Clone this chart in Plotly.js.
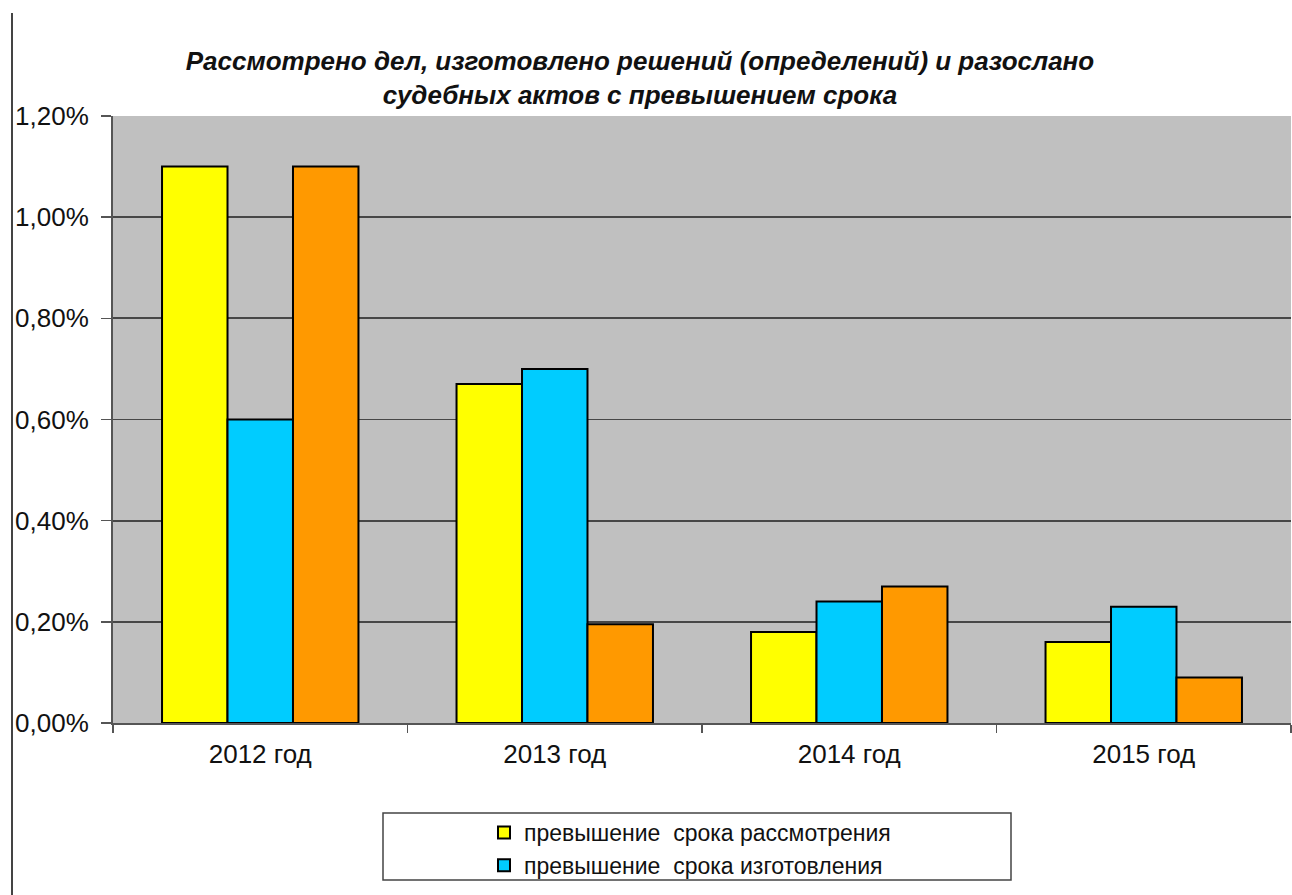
<!DOCTYPE html>
<html>
<head>
<meta charset="utf-8">
<script src="https://cdn.plot.ly/plotly-3.0.1.min.js"></script>
<style>html,body{margin:0;padding:0;background:#fff;}#chart{width:1292px;height:895px;}</style>
</head>
<body>
<div id="chart"></div>
<script>
const categories = ['2012 год', '2013 год', '2014 год', '2015 год'];
const reviewOverdue = [1.10, 0.67, 0.18, 0.16];      // превышение срока рассмотрения
const productionOverdue = [0.60, 0.70, 0.24, 0.23];  // превышение срока изготовления
const dispatchOverdue = [1.10, 0.195, 0.27, 0.09];   // превышение срока рассылки
const seriesNames = ['превышение\u00a0 срока рассмотрения', 'превышение\u00a0 срока изготовления', 'превышение\u00a0 срока рассылки'];
const yTicks = [0, 0.2, 0.4, 0.6, 0.8, 1.0, 1.2];
const yTickText = ['0,00%', '0,20%', '0,40%', '0,60%', '0,80%', '1,00%', '1,20%'];
const titleText = 'Рассмотрено дел, изготовлено решений (определений) и разослано<br>судебных актов с превышением срока';

const FONT = 'Liberation Sans, Arial, sans-serif';
const W = 1292, H = 895, ML = 113, MR = 1, MT = 116, MB = 172;
const PW = W - ML - MR, PH = H - MT - MB;
const px = x => (x - ML) / PW;
const py = y => (H - MB - y) / PH;

const barLine = {color: '#000', width: 2};
const traces = [
  {type: 'bar', x: categories, y: reviewOverdue, name: seriesNames[0], marker: {color: '#ffff00', line: barLine}},
  {type: 'bar', x: categories, y: productionOverdue, name: seriesNames[1], marker: {color: '#00ccff', line: barLine}},
  {type: 'bar', x: categories, y: dispatchOverdue, name: seriesNames[2], showlegend: false, marker: {color: '#ff9900', line: barLine}}
];

const layout = {
  width: W, height: H,
  margin: {l: ML, r: MR, t: MT, b: MB, pad: 0},
  paper_bgcolor: '#ffffff',
  plot_bgcolor: '#c0c0c0',
  barmode: 'group',
  bargap: 0.333,
  bargroupgap: 0,
  font: {family: FONT, color: '#111', size: 20},
  title: {
    text: titleText,
    font: {family: FONT, size: 26, weight: 'bold', style: 'italic', color: '#111'},
    x: 640 / W, xanchor: 'center',
    y: 1 - 70 / H, yanchor: 'top', yref: 'container'
  },
  xaxis: {
    type: 'category',
    tickson: 'boundaries',
    ticks: 'outside', ticklen: 8, tickwidth: 1.5, tickcolor: '#555',
    showline: true, linecolor: '#555', linewidth: 2,
    showgrid: false,
    tickfont: {family: FONT, size: 26, color: '#111'},
    ticklabelstandoff: 7,
    fixedrange: true
  },
  yaxis: {
    range: [0, 1.2],
    tickmode: 'array',
    tickvals: yTicks,
    ticktext: yTickText,
    ticks: 'outside', ticklen: 10, tickwidth: 1.5, tickcolor: '#555',
    showline: true, linecolor: '#555', linewidth: 2,
    showgrid: true, gridcolor: '#474747', gridwidth: 1.7,
    zeroline: false,
    tickfont: {family: FONT, size: 26, color: '#111'},
    ticklabelstandoff: 7,
    fixedrange: true
  },
  legend: {
    x: px(690), xanchor: 'center',
    y: py(811), yanchor: 'top',
    bgcolor: 'rgba(0,0,0,0)',
    borderwidth: 0,
    font: {family: FONT, size: 23, color: '#111'},
    itemsizing: 'constant',
    tracegroupgap: 0
  },
  shapes: [
    // lighter 1,00% gridline as in the reference
    {type: 'line', xref: 'paper', yref: 'y', x0: 0, x1: 1, y0: 1.0, y1: 1.0, line: {color: '#a0a0a0', width: 1.5}, layer: 'below'},
    // legend frame
    {type: 'rect', xref: 'paper', yref: 'paper', x0: px(383), x1: px(1011), y0: py(880), y1: py(813), line: {color: '#444', width: 1.5}, fillcolor: 'rgba(0,0,0,0)'},
    // left border of chart area
    {type: 'line', xref: 'paper', yref: 'paper', x0: px(12), x1: px(12), y0: py(13), y1: py(895), line: {color: '#444', width: 2}}
  ],
  showlegend: true
};

Plotly.newPlot('chart', traces, layout, {displayModeBar: false, staticPlot: true});
</script>
</body>
</html>
